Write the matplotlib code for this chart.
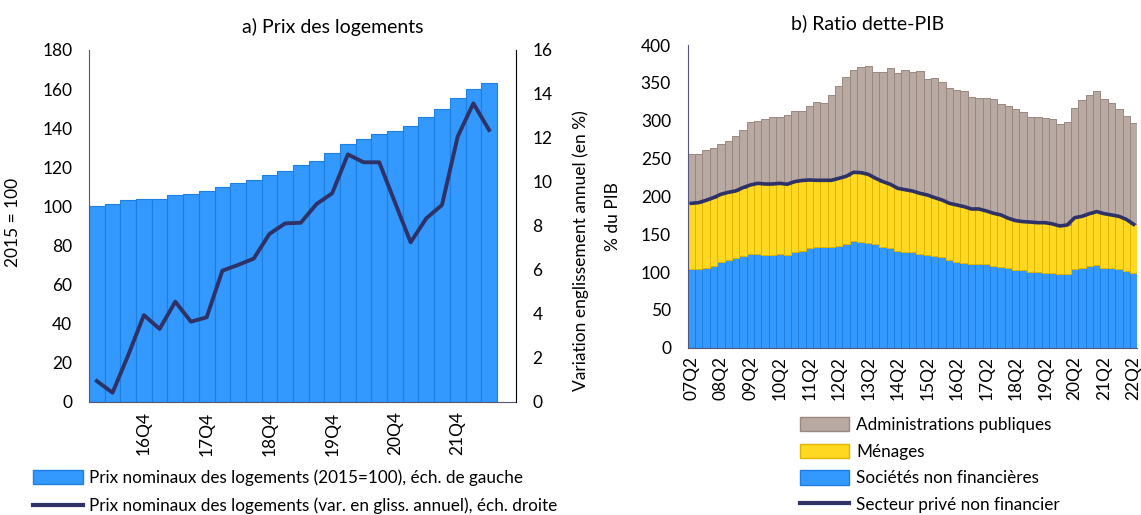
import matplotlib
matplotlib.use("Agg")
import matplotlib.pyplot as plt
from matplotlib.patches import Patch
from matplotlib.lines import Line2D

plt.rcParams['font.family'] = ['Lato', 'DejaVu Sans']

# a) Prix des logements, 16Q1 .. 22Q2
prix_indice = [100.0, 101.2, 103.1, 103.7, 103.7, 105.6, 106.5, 107.7, 109.7, 112.1,
               113.5, 116.2, 118.1, 121.3, 123.4, 127.3, 131.9, 134.6, 137.2, 138.5,
               141.1, 145.7, 149.6, 155.6, 160.0, 163.3]
prix_gliss = [0.94, 0.41, 2.12, 3.94, 3.31, 4.55, 3.64, 3.84, 5.96, 6.22,
              6.51, 7.63, 8.11, 8.14, 8.99, 9.48, 11.25, 10.89, 10.89, 9.07,
              7.25, 8.34, 8.95, 12.06, 13.57, 12.36]
ticks_a = {3: "16Q4", 7: "17Q4", 11: "18Q4", 15: "19Q4", 19: "20Q4", 23: "21Q4"}

# b) Ratio dette-PIB, 07Q2 .. 22Q2
societes = [103.6, 103.6, 104.9, 108.4, 113.7, 115.9, 118.1, 121.2, 124.3, 124.3,
            122.5, 122.5, 123.8, 122.5, 126.0, 128.2, 131.3, 132.6, 132.6, 132.6,
            134.4, 137.5, 141.0, 140.1, 137.9, 136.6, 132.6, 131.3, 127.8, 126.0,
            126.0, 124.3, 122.5, 121.2, 119.4, 115.4, 113.7, 112.3, 110.6, 110.6,
            110.6, 108.4, 107.0, 104.9, 102.2, 102.2, 100.5, 100.5, 99.1, 98.2,
            96.9, 96.9, 103.6, 105.7, 107.5, 109.3, 105.7, 104.9, 103.6, 101.8,
            99.1]
menages = [87.2, 88.1, 89.9, 89.9, 89.0, 89.4, 89.0, 90.3, 90.7, 92.9,
           93.8, 93.8, 93.4, 93.5, 93.4, 92.8, 90.3, 88.6, 88.6, 88.6,
           89.4, 89.0, 90.8, 91.2, 91.2, 87.2, 86.8, 84.6, 82.8, 82.8,
           81.0, 79.7, 79.3, 77.1, 75.8, 75.4, 74.9, 74.1, 72.7, 72.7,
           70.1, 69.2, 68.4, 66.1, 65.7, 64.4, 65.5, 64.7, 66.1, 65.3,
           63.9, 65.3, 68.2, 67.9, 69.6, 70.5, 71.4, 70.5, 70.0, 67.8,
           63.9]
admin = [65.2, 63.9, 66.0, 66.1, 66.0, 67.4, 72.6, 76.6, 83.3, 82.8,
         85.5, 89.0, 88.1, 91.1, 93.9, 91.8, 98.3, 104.0, 102.2, 112.8,
         122.1, 130.8, 135.6, 139.6, 143.6, 140.5, 144.9, 153.3, 152.0, 158.6,
         157.3, 162.1, 152.8, 157.7, 155.5, 151.9, 152.4, 152.8, 148.4, 147.1,
         148.8, 150.6, 146.2, 148.9, 147.6, 144.5, 139.3, 139.7, 137.9, 138.3,
         135.3, 135.6, 145.4, 153.3, 156.9, 159.4, 151.5, 147.5, 141.9, 136.6,
         133.5]
prive = [190.8, 191.7, 194.8, 198.3, 202.7, 205.3, 207.1, 211.5, 215.0, 217.2,
         216.3, 216.3, 217.2, 216.0, 219.4, 221.0, 221.6, 221.2, 221.2, 221.2,
         223.8, 226.5, 231.8, 231.3, 229.1, 223.8, 219.4, 215.9, 210.6, 208.8,
         207.0, 204.0, 201.8, 198.3, 195.2, 190.8, 188.6, 186.4, 183.3, 183.3,
         180.7, 177.6, 175.4, 171.0, 167.9, 166.6, 166.0, 165.2, 165.2, 163.5,
         160.8, 162.2, 171.8, 173.6, 177.1, 179.8, 177.1, 175.4, 173.6, 169.6,
         163.0]
ticks_b = ["07Q2", "08Q2", "09Q2", "10Q2", "11Q2", "12Q2", "13Q2", "14Q2",
           "15Q2", "16Q2", "17Q2", "18Q2", "19Q2", "20Q2", "21Q2", "22Q2"]

BLUE, BLUE_EDGE = "#3399ff", "#1f7fe0"
YELLOW, YELLOW_EDGE = "#ffd822", "#e0b400"
GREY, GREY_EDGE = "#b8aaa3", "#9a8780"
NAVY = "#2e3266"
AXIS = "#55557a"
FS = 12.5

fig = plt.figure(figsize=(11.41, 5.15), dpi=100)

# ---- panel a
ax1 = fig.add_axes([0.078, 0.22, 0.374, 0.683])
xa = range(len(prix_indice))
ax1.bar(xa, prix_indice, width=1.0, color=BLUE, edgecolor=BLUE_EDGE, linewidth=0.8)
ax1.set_xlim(-0.5, 26.7)
ax1.set_ylim(0, 180)
ax1.set_yticks(range(0, 181, 20))
ax1.set_xticks(list(ticks_a.keys()))
ax1.set_xticklabels(list(ticks_a.values()), rotation=90, fontsize=FS)
ax1.tick_params(axis='y', labelsize=FS, length=0, pad=12)
ax1.tick_params(axis='x', length=0, pad=7)
ax1.set_ylabel("2015 = 100", fontsize=FS)
ax1.yaxis.set_label_coords(-0.16, 0.51)
for s in ["top", "right"]:
    ax1.spines[s].set_visible(False)
ax1.spines["left"].set_color(AXIS)
ax1.spines["bottom"].set_color(AXIS)

ax2 = ax1.twinx()
ax2.plot(xa, prix_gliss, color=NAVY, linewidth=2.8)
ax2.set_ylim(0, 16)
ax2.set_yticks(range(0, 17, 2))
ax2.tick_params(axis='y', labelsize=FS, length=0, pad=12)
ax2.set_ylabel("Variation englissement annuel (en %)", fontsize=FS)
ax2.yaxis.set_label_coords(1.134, 0.43)
for s in ["top", "left", "bottom"]:
    ax2.spines[s].set_visible(False)
ax2.spines["right"].set_color("black")

fig.text(0.292, 0.947, "a) Prix des logements", ha="center", va="center", fontsize=14)

fig.legend(handles=[Patch(facecolor=BLUE, edgecolor=BLUE_EDGE),
                    Line2D([], [], color=NAVY, linewidth=3)],
           labels=["Prix nominaux des logements (2015=100), éch. de gauche",
                   "Prix nominaux des logements (var. en gliss. annuel), éch. droite"],
           loc="upper left", bbox_to_anchor=(0.029, 0.089), frameon=False,
           fontsize=12.3, handlelength=2.9, handleheight=0.9, handletextpad=0.4,
           labelspacing=0.7, borderpad=0, borderaxespad=0)

# ---- panel b
ax3 = fig.add_axes([0.6027, 0.3249, 0.3941, 0.5877])
xb = range(len(societes))
bottom_adm = [s + m for s, m in zip(societes, menages)]
ax3.bar(xb, societes, width=1.0, color=BLUE, edgecolor=BLUE_EDGE, linewidth=0.7)
ax3.bar(xb, menages, bottom=societes, width=1.0, color=YELLOW,
        edgecolor=YELLOW_EDGE, linewidth=0.7)
ax3.bar(xb, admin, bottom=bottom_adm, width=1.0, color=GREY,
        edgecolor=GREY_EDGE, linewidth=0.7)
ax3.plot(xb, prive, color=NAVY, linewidth=2.6)
ax3.set_xlim(-0.5, len(societes) - 0.5)
ax3.set_ylim(0, 400)
ax3.set_yticks(range(0, 401, 50))
ax3.set_xticks(range(0, len(societes), 4))
ax3.set_xticklabels(ticks_b, rotation=90, fontsize=FS)
ax3.tick_params(axis='y', labelsize=FS, length=0, pad=12)
ax3.tick_params(axis='x', length=0, pad=6)
ax3.set_ylabel("% du PIB", fontsize=FS)
ax3.yaxis.set_label_coords(-0.149, 0.432)
for s in ["top", "right"]:
    ax3.spines[s].set_visible(False)
ax3.spines["left"].set_color(AXIS)
ax3.spines["bottom"].set_color(AXIS)

fig.text(0.76, 0.955, "b) Ratio dette-PIB", ha="center", va="center", fontsize=14)

fig.legend(handles=[Patch(facecolor=GREY, edgecolor=GREY_EDGE),
                    Patch(facecolor=YELLOW, edgecolor=YELLOW_EDGE),
                    Patch(facecolor=BLUE, edgecolor=BLUE_EDGE),
                    Line2D([], [], color=NAVY, linewidth=3)],
           labels=["Administrations publiques", "Ménages",
                   "Sociétés non financières", "Secteur privé non financier"],
           loc="upper left", bbox_to_anchor=(0.701, 0.19), frameon=False,
           fontsize=12.3, handlelength=2.9, handleheight=0.9, handletextpad=0.4,
           labelspacing=0.62, borderpad=0, borderaxespad=0)

fig.savefig("out.png", dpi=100)
